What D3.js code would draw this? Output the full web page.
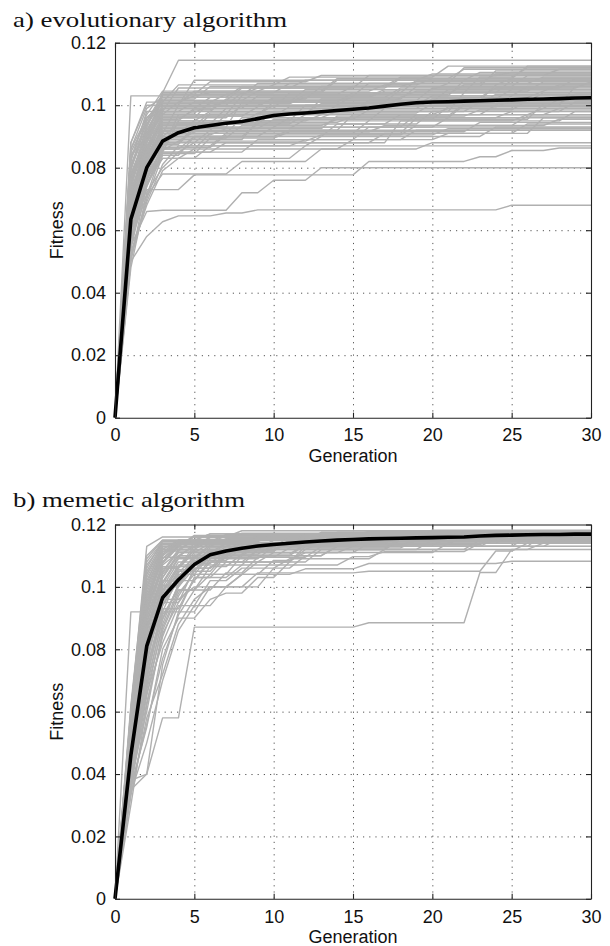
<!DOCTYPE html>
<html><head><meta charset="utf-8">
<script src="https://cdn.jsdelivr.net/npm/d3@7"></script>
<style>body{margin:0;background:#fff} svg{display:block}</style>
</head><body>
<script>
// ---- data ----
const generations = d3.range(0, 31);
const xTicks = [0, 5, 10, 15, 20, 25, 30];
const yTicks = [0, 0.02, 0.04, 0.06, 0.08, 0.1, 0.12];
const yTickLabels = ["0", "0.02", "0.04", "0.06", "0.08", "0.1", "0.12"];
const titles = ["a) evolutionary algorithm", "b) memetic algorithm"];
const xLabel = "Generation";
const yLabel = "Fitness";

// mean (black) curves, one value per generation 0..30
const meanA = [0, .0635, .0800, .0885, .0912, .0928, .0935, .0942, .0948, .0957, .0967,
  .0972, .0975, .0979, .0983, .0987, .0991, .0997, .1003, .1008, .1010,
  .1011, .1013, .1014, .1016, .1017, .1019, .1020, .1021, .1023, .1024];
const meanB = [0, .0460, .0810, .0965, .1023, .1072, .1103, .1115, .1124, .1131, .1136,
  .1140, .1144, .1147, .1150, .1152, .1154, .1155, .1156, .1157, .1158,
  .1159, .1160, .1163, .1165, .1166, .1167, .1168, .1168, .1169, .1169];

// individual runs: [generation, best fitness reached at that generation] change points
const runsA = [
  [[1,.103],[6,.104],[14,.108]],
  [[1,.088],[2,.100],[5,.108],[20,.110]],
  [[1,.085],[3,.104],[4,.1144]],
  [[1,.070],[2,.090],[3,.103],[9,.107],[22,.112]],
  [[1,.060],[2,.082],[3,.093],[8,.101],[18,.105]],
  [[1,.072],[2,.085],[4,.095],[12,.100],[25,.103]],
  [[1,.055],[2,.078],[3,.088],[6,.092],[15,.097],[27,.099]],
  [[1,.065],[2,.080],[3,.090],[10,.093],[21,.096]],
  [[1,.050],[2,.075],[3,.085],[7,.088],[17,.091],[26,.094]],
  [[1,.050],[2,.058],[3,.0627],[4,.0646],[7,.0655],[9,.0665],[25,.068]],
  [[1,.058],[2,.073],[5,.0777],[16,.082],[23,.0835],[25,.0855],[28,.0863]],
  [[1,.068],[2,.083],[3,.095],[5,.099],[11,.104],[23,.109]],
  [[1,.075],[2,.088],[3,.098],[7,.102],[13,.106],[24,.111]],
  [[1,.080],[2,.092],[3,.100],[8,.104],[19,.108]],
  [[1,.052],[2,.070],[3,.084],[5,.090],[14,.094],[20,.098],[29,.101]],
  [[1,.066],[2,.079],[3,.089],[9,.095],[13,.097],[24,.100]],
  [[1,.073],[2,.086],[4,.097],[10,.101],[27,.104]],
  [[1,.057],[2,.077],[3,.083],[6,.087],[12,.089],[19,.092]],
  [[1,.063],[2,.081],[3,.091],[5,.095],[17,.099],[28,.102]],
  [[1,.083],[2,.094],[3,.102],[6,.106],[18,.109],[26,.112]],
  [[1,.060],[2,.084],[3,.096],[8,.100],[15,.103]],
  [[1,.070],[2,.087],[3,.093],[11,.096],[22,.100]],
  [[1,.048],[2,.072],[3,.080],[4,.085],[9,.089],[16,.093]],
  [[1,.078],[2,.090],[3,.097],[4,.101],[12,.105],[21,.107]],
  [[1,.061],[2,.074],[3,.087],[7,.091],[19,.096],[25,.098]],
  [[1,.067],[2,.082],[3,.092],[6,.097],[14,.100],[29,.106]],
  [[1,.054],[2,.076],[3,.086],[5,.090],[11,.092]],
  [[1,.074],[2,.089],[3,.099],[9,.103],[17,.105]],
  [[1,.059],[2,.079],[3,.090],[4,.094],[10,.098],[23,.101]],
  [[1,.086],[2,.096],[3,.101],[5,.103],[16,.107],[27,.109]],
  [[1,.064],[2,.071],[3,.078],[8,.082],[13,.086],[20,.088]],
  [[1,.069],[2,.085],[3,.094],[12,.097],[21,.099]],
  [[1,.056],[2,.080],[3,.094],[7,.099],[20,.102]],
  [[1,.071],[2,.088],[3,.096],[6,.101],[15,.104],[25,.108]],
  [[1,.051],[2,.069],[3,.081],[4,.087],[13,.090],[24,.093]],
  [[1,.077],[2,.091],[4,.100],[10,.102],[19,.106]],
  [[1,.062],[2,.078],[3,.085],[5,.088],[18,.095],[26,.097]],
  [[1,.066],[2,.083],[3,.091],[8,.096],[14,.098],[22,.104]],
  [[1,.058],[2,.075],[3,.083],[5,.086],[15,.089],[21,.091],[27,.096]],
  [[1,.081],[2,.093],[3,.104],[11,.107],[24,.110]],
  [[1,.065],[2,.086],[3,.095],[6,.098],[16,.101]],
  [[1,.053],[2,.068],[3,.079],[4,.083],[12,.087]],
  [[1,.072],[2,.084],[3,.090],[9,.094],[18,.097],[28,.099]],
  [[1,.060],[2,.079],[3,.092],[7,.097],[13,.102],[25,.105]],
  [[1,.076],[2,.089],[3,.097],[10,.100],[20,.103],[26,.106]],
  [[1,.068],[2,.081],[3,.088],[5,.093],[19,.097]],
  [[1,.063],[2,.085],[3,.097],[8,.103],[22,.108]],
  [[1,.057],[2,.071],[3,.086],[6,.091],[16,.095],[29,.098]],
  [[1,.084],[2,.090],[3,.098],[5,.101],[21,.105]],
  [[1,.055],[2,.066],[3,.0664],[8,.072],[10,.076],[13,.080]],
  [[1,.079],[2,.095],[3,.101],[7,.1035],[15,.106],[26,.1095]],
  [[1,.070],[2,.091],[3,.099],[6,.1025],[17,.1045],[28,.1065]],
  [[1,.082],[2,.098],[4,.1055],[12,.108],[23,.1105]],
  [[1,.067],[2,.086],[3,.0965],[9,.0995],[18,.1025],[27,.1045]],
  [[1,.074],[2,.094],[3,.1005],[5,.1045],[14,.1085],[22,.1115]],
  [[1,.061],[2,.083],[3,.0935],[6,.0975],[13,.1005],[24,.1035]],
  [[1,.086],[2,.099],[3,.1025],[8,.106],[19,.1075]],
  [[1,.064],[2,.082],[3,.0925],[10,.0955],[16,.0985],[26,.1015]],
  [[1,.071],[2,.089],[3,.0985],[7,.1015],[20,.1055],[29,.1085]],
  [[1,.058],[2,.076],[3,.0875],[5,.0925],[12,.0955],[21,.0995]],
  [[1,.077],[2,.092],[3,.1015],[9,.1045],[17,.1065],[25,.1085]],
  [[1,.069],[2,.084],[3,.0915],[6,.0945],[15,.0965],[23,.0985]],
  [[1,.088],[2,.101],[4,.1065],[11,.109],[21,.1125]],
  [[1,.062],[2,.080],[3,.0895],[8,.0935],[14,.0955],[27,.1005]],
  [[1,.075],[2,.090],[3,.0995],[10,.1025],[18,.1055],[30,.1075]],
  [[1,.066],[2,.087],[3,.0955],[5,.0985],[16,.1015],[24,.1065]],
  [[1,.073],[2,.093],[3,.1035],[6,.1075],[13,.1095],[28,.1115]],
  [[1,.059],[2,.077],[3,.0865],[7,.0905],[19,.0935],[26,.0965]],
  [[1,.080],[2,.096],[3,.1005],[12,.1035],[22,.1065]],
  [[1,.068],[2,.085],[3,.0945],[9,.0975],[20,.1005],[29,.1035]],
  [[1,.057],[2,.074],[3,.0845],[6,.0895],[11,.0915],[23,.0945]],
  [[1,.078],[2,.091],[3,.1015],[8,.1055],[16,.1095],[25,.1105]],
  [[1,.064],[2,.081],[3,.0905],[7,.0925],[14,.0965],[22,.1005]],
  [[1,.083],[2,.097],[3,.1045],[10,.1065],[20,.1085]],
  [[1,.060],[2,.079],[3,.0885],[5,.0915],[17,.0935],[28,.0955]],
  [[1,.072],[2,.088],[3,.0975],[6,.1005],[12,.1025],[19,.1045],[27,.1075]],
  [[1,.085],[2,.095],[3,.1035],[9,.1055],[18,.1085],[26,.1125]],
  [[1,.063],[2,.078],[3,.0855],[4,.0885],[13,.0905],[21,.0925]],
  [[1,.076],[2,.092],[3,.0995],[7,.1015],[15,.1025],[24,.1055]],
  [[1,.069],[2,.086],[3,.0965],[11,.0995],[25,.1015]]
];
const runsB = [
  [[1,.092],[3,.113],[5,.116],[12,.117]],
  [[1,.060],[2,.113],[3,.116],[8,.118]],
  [[1,.050],[2,.100],[3,.112],[4,.115],[10,.117]],
  [[1,.045],[2,.085],[3,.105],[4,.112],[6,.115],[20,.117]],
  [[1,.040],[2,.075],[3,.098],[4,.106],[5,.111],[7,.114],[15,.116]],
  [[1,.035],[2,.040],[3,.058],[5,.0871],[16,.0885],[23,.1046],[25,.112],[27,.114]],
  [[1,.038],[2,.040],[3,.075],[4,.092],[6,.100],[8,.104],[12,.1058],[16,.1075],[25,.1082]],
  [[1,.055],[2,.088],[3,.096],[5,.100],[9,.1045],[16,.105],[24,.1115],[26,.114]],
  [[1,.048],[2,.080],[3,.092],[5,.103],[8,.107],[15,.1097],[17,.1113],[23,.114]],
  [[1,.052],[2,.095],[3,.110],[4,.114],[9,.116],[19,.117]],
  [[1,.030],[2,.062],[3,.085],[4,.095],[5,.102],[6,.108],[9,.112],[13,.114],[22,.116]],
  [[1,.043],[2,.078],[3,.100],[4,.108],[6,.112],[11,.115]],
  [[1,.058],[2,.105],[3,.114],[7,.1165],[21,.118]],
  [[1,.046],[2,.090],[3,.104],[4,.110],[5,.113],[14,.116]],
  [[1,.036],[2,.055],[3,.080],[4,.090],[6,.096],[7,.098],[9,.103],[11,.108],[13,.112],[18,.115]],
  [[1,.041],[2,.070],[3,.094],[4,.102],[6,.109],[10,.113],[26,.116]],
  [[1,.062],[2,.110],[3,.115],[6,.117]],
  [[1,.044],[2,.083],[3,.099],[4,.104],[7,.110],[12,.1135],[24,.1165]],
  [[1,.039],[2,.060],[3,.086],[4,.098],[5,.104],[8,.110],[14,.113]],
  [[1,.050],[2,.097],[3,.108],[4,.113],[8,.115],[17,.117]],
  [[1,.033],[2,.058],[3,.072],[4,.088],[5,.096],[6,.100],[8,.104],[10,.1085],[12,.111],[16,.114]],
  [[1,.047],[2,.087],[3,.102],[5,.109],[7,.112],[18,.116]],
  [[1,.054],[2,.093],[3,.107],[4,.111],[6,.114],[22,.117]],
  [[1,.042],[2,.068],[3,.090],[4,.100],[5,.106],[7,.111],[15,.113],[28,.1155]],
  [[1,.057],[2,.102],[3,.112],[5,.115],[13,.1175]],
  [[1,.037],[2,.065],[3,.088],[4,.101],[5,.107],[9,.112],[20,.115]],
  [[1,.049],[2,.084],[3,.097],[4,.105],[6,.110],[8,.113],[27,.117]],
  [[1,.045],[2,.079],[3,.095],[5,.106],[7,.1095],[11,.1125],[19,.115]],
  [[1,.053],[2,.099],[3,.111],[4,.115],[11,.1165]],
  [[1,.040],[2,.072],[3,.091],[4,.099],[6,.104],[9,.108],[12,.112],[23,.115]],
  [[1,.051],[2,.092],[3,.106],[5,.112],[10,.115]],
  [[1,.034],[2,.050],[3,.070],[4,.086],[5,.094],[7,.100],[10,.106],[12,.110],[14,.113]],
  [[1,.056],[2,.107],[3,.114],[9,.1165]],
  [[1,.046],[2,.081],[3,.101],[4,.109],[6,.113],[16,.1155]],
  [[1,.043],[2,.074],[3,.093],[5,.103],[7,.108],[10,.111],[21,.114]],
  [[1,.048],[2,.089],[3,.103],[4,.111],[9,.114],[25,.1165]],
  [[1,.059],[2,.104],[3,.113],[6,.116],[14,.1175]],
  [[1,.038],[2,.066],[3,.082],[4,.094],[6,.102],[8,.106],[11,.109],[17,.112]],
  [[1,.044],[2,.086],[3,.100],[5,.108],[12,.113]],
  [[1,.052],[2,.094],[3,.109],[4,.113],[7,.1155],[29,.117]],
  [[1,.055],[2,.101],[3,.113],[5,.1165],[16,.1178]],
  [[1,.047],[2,.091],[3,.108],[4,.1135],[9,.1162],[23,.1175]],
  [[1,.042],[2,.080],[3,.099],[4,.107],[6,.1125],[12,.1152],[26,.1168]],
  [[1,.061],[2,.108],[3,.1145],[7,.1168],[20,.1182]],
  [[1,.050],[2,.096],[3,.1095],[5,.1138],[13,.1160]],
  [[1,.039],[2,.071],[3,.092],[4,.1035],[5,.1085],[8,.1125],[18,.1155]],
  [[1,.053],[2,.098],[3,.1105],[4,.1145],[10,.1168],[27,.1180]],
  [[1,.045],[2,.084],[3,.1015],[4,.1095],[6,.1135],[15,.1162]],
  [[1,.036],[2,.063],[3,.084],[4,.097],[5,.105],[7,.1105],[10,.1135],[21,.1158]],
  [[1,.058],[2,.106],[3,.1148],[6,.1170]],
  [[1,.048],[2,.088],[3,.1045],[4,.1115],[8,.1148],[24,.1170]],
  [[1,.041],[2,.077],[3,.0965],[4,.1055],[6,.1105],[9,.1138],[17,.1160]],
  [[1,.054],[2,.100],[3,.1115],[5,.1152],[14,.1172]],
  [[1,.044],[2,.082],[3,.1005],[5,.1095],[7,.1130],[19,.1158],[28,.1172]],
  [[1,.051],[2,.093],[3,.1075],[4,.1128],[11,.1160]],
  [[1,.037],[2,.067],[3,.087],[4,.099],[6,.1065],[8,.1105],[12,.1138],[22,.1160]],
  [[1,.060],[2,.109],[3,.1150],[8,.1172]],
  [[1,.046],[2,.086],[3,.1030],[4,.1100],[7,.1140],[18,.1165]],
  [[1,.049],[2,.090],[3,.1060],[5,.1120],[10,.1150],[25,.1175]],
  [[1,.040],[2,.073],[3,.0940],[4,.1045],[5,.1095],[8,.1130],[14,.1150]],
  [[1,.056],[2,.103],[3,.1125],[6,.1158],[20,.1176]],
  [[1,.043],[2,.079],[3,.0980],[4,.1065],[6,.1115],[11,.1145],[29,.1165]],
  [[1,.052],[2,.095],[3,.1090],[4,.1140],[12,.1168]],
  [[1,.035],[2,.056],[3,.077],[4,.091],[5,.099],[7,.1045],[9,.1095],[13,.1130],[24,.1155]],
  [[1,.057],[2,.104],[3,.1135],[5,.1160],[22,.1178]],
  [[1,.047],[2,.087],[3,.1020],[5,.1105],[8,.1142],[17,.1165]],
  [[1,.042],[2,.076],[3,.0955],[4,.1040],[6,.1100],[9,.1132],[15,.1155]],
  [[1,.054],[2,.097],[3,.1100],[4,.1142],[13,.1165],[26,.1178]],
  [[1,.038],[2,.069],[3,.0895],[4,.1005],[5,.1075],[7,.1115],[11,.1145]],
  [[1,.050],[2,.092],[3,.1065],[5,.1130],[16,.1160]]
];

// ---- drawing ----
const W = 610, H = 946;
const svg = d3.select("body").append("svg").attr("width", W).attr("height", H);

const panels = [
  {title: titles[0], titleY: 26.7, titleLen: 274, top: 42.7, bottom: 417.7, mean: meanA, runs: runsA},
  {title: titles[1], titleY: 507.3, titleLen: 232, top: 524.5, bottom: 898.8, mean: meanB, runs: runsB}
];
const left = 115, right = 591;
const sans = "'Liberation Sans', Arial, Helvetica, sans-serif";

function expand(run) {
  const m = new Map(run);
  let v = 0;
  return generations.map(g => { if (m.has(g)) v = m.get(g); return v; });
}

panels.forEach(p => {
  const x = d3.scaleLinear().domain([0, 30]).range([left, right]);
  const y = d3.scaleLinear().domain([0, 0.12]).range([p.bottom, p.top]);
  const g = svg.append("g");

  g.append("text").attr("x", 13).attr("y", p.titleY)
    .attr("font-family", "'Liberation Serif', 'DejaVu Serif', serif")
    .attr("font-size", 21).attr("fill", "#111")
    .attr("textLength", p.titleLen).attr("lengthAdjust", "spacingAndGlyphs")
    .text(p.title);

  // grid
  const gridStyle = sel => sel.selectAll("line").attr("stroke", "#555").attr("stroke-width", 1)
    .attr("stroke-dasharray", "1.2,5");
  g.append("g").attr("transform", `translate(0,${p.bottom})`)
    .call(d3.axisBottom(x).tickValues(xTicks.slice(1, -1)).tickSize(-(p.bottom - p.top)).tickFormat(""))
    .call(s => s.select(".domain").remove()).call(gridStyle);
  g.append("g").attr("transform", `translate(${left},0)`)
    .call(d3.axisLeft(y).tickValues(yTicks.slice(1, -1)).tickSize(-(right - left)).tickFormat(""))
    .call(s => s.select(".domain").remove()).call(gridStyle);

  // runs
  const line = d3.line().x((d, i) => x(generations[i])).y(d => y(d));
  g.append("g").selectAll("path").data(p.runs.map(expand)).join("path")
    .attr("d", line).attr("fill", "none").attr("stroke", "#b0b0b0").attr("stroke-width", 1.4)
    .attr("stroke-linejoin", "round");

  // mean
  g.append("path").attr("d", line(p.mean)).attr("fill", "none")
    .attr("stroke", "#000").attr("stroke-width", 3.6).attr("stroke-linejoin", "round");

  // box with inward ticks
  const tickStyle = sel => {
    sel.selectAll(".domain").attr("stroke", "#222").attr("stroke-width", 1.1);
    sel.selectAll(".tick line").attr("stroke", "#222").attr("stroke-width", 1.1);
    sel.selectAll("text").attr("font-family", sans).attr("font-size", 18).attr("fill", "#111");
  };
  g.append("g").attr("transform", `translate(0,${p.bottom})`)
    .call(d3.axisBottom(x).tickValues(xTicks).tickSizeInner(-5).tickSizeOuter(0).tickPadding(11).tickFormat(d3.format("d")))
    .call(tickStyle);
  g.append("g").attr("transform", `translate(0,${p.top})`)
    .call(d3.axisTop(x).tickValues(xTicks).tickSizeInner(-5).tickSizeOuter(0).tickFormat(""))
    .call(tickStyle);
  g.append("g").attr("transform", `translate(${left},0)`)
    .call(d3.axisLeft(y).tickValues(yTicks).tickSizeInner(-5).tickSizeOuter(0).tickPadding(9)
      .tickFormat((d, i) => yTickLabels[i]))
    .call(tickStyle);
  g.append("g").attr("transform", `translate(${right},0)`)
    .call(d3.axisRight(y).tickValues(yTicks).tickSizeInner(-5).tickSizeOuter(0).tickFormat(""))
    .call(tickStyle);

  // axis labels
  g.append("text").attr("x", (left + right) / 2).attr("y", p.bottom + 44.3)
    .attr("text-anchor", "middle").attr("font-family", sans).attr("font-size", 18).attr("fill", "#111")
    .text(xLabel);
  g.append("text").attr("transform", `translate(63,${(p.top + p.bottom) / 2}) rotate(-90)`)
    .attr("text-anchor", "middle").attr("font-family", sans).attr("font-size", 18).attr("fill", "#111")
    .text(yLabel);
});
</script>
</body></html>
